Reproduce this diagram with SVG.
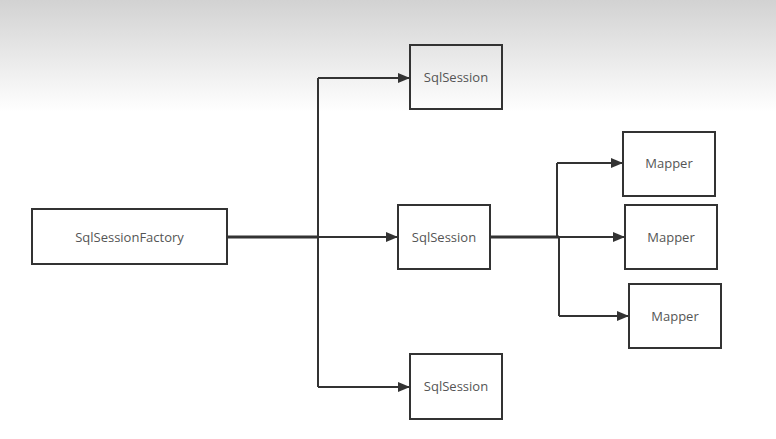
<svg xmlns="http://www.w3.org/2000/svg" width="776" height="439" viewBox="0 0 776 439">
<defs>
<linearGradient id="bg" x1="0" y1="0" x2="0" y2="1">
<stop offset="0" stop-color="#d2d2d2"/>
<stop offset="1" stop-color="#ffffff"/>
</linearGradient>
<marker id="arr" markerWidth="12" markerHeight="10" refX="12" refY="5" orient="auto" markerUnits="userSpaceOnUse">
<path d="M0,0 L12,5 L0,10 Z" fill="#333"/>
</marker>
<style>
.box{fill:none;stroke:#333;stroke-width:2}
.lbl{font-family:"Open Sans","Noto Sans","Liberation Sans",sans-serif;font-size:13px;fill:#555;text-anchor:middle;dominant-baseline:central}
.ln{fill:none;stroke:#333;stroke-width:2}
.thick{stroke-width:3}
</style>
</defs>
<rect x="0" y="0" width="776" height="439" fill="#fff"/>
<rect x="0" y="0" width="776" height="112" fill="url(#bg)"/>
<g id="connectors">
<path class="ln thick" d="M227,237 L318,237"/>
<path class="ln" d="M318,78 L318,387"/>
<path class="ln" d="M318,78 L410,78" marker-end="url(#arr)"/>
<path class="ln" d="M318,237 L398,237" marker-end="url(#arr)"/>
<path class="ln" d="M318,387 L410,387" marker-end="url(#arr)"/>
<path class="ln thick" d="M490,237 L559,237"/>
<path class="ln" d="M557,163 L557,237"/>
<path class="ln" d="M559,237 L559,316"/>
<path class="ln" d="M557,163 L623,163" marker-end="url(#arr)"/>
<path class="ln" d="M559,237 L625,237" marker-end="url(#arr)"/>
<path class="ln" d="M559,316 L629,316" marker-end="url(#arr)"/>
</g>
<g id="factory"><rect class="box" x="32" y="209" width="195" height="55"/><text class="lbl" x="129.5" y="237">SqlSessionFactory</text></g>
<g id="session1"><rect class="box" x="410" y="45" width="92" height="64"/><text class="lbl" x="456" y="77">SqlSession</text></g>
<g id="session2"><rect class="box" x="398" y="205" width="92" height="64"/><text class="lbl" x="444" y="237">SqlSession</text></g>
<g id="session3"><rect class="box" x="410" y="354" width="92" height="65"/><text class="lbl" x="456" y="386">SqlSession</text></g>
<g id="mapper1"><rect class="box" x="623" y="132" width="92" height="64"/><text class="lbl" x="669" y="163">Mapper</text></g>
<g id="mapper2"><rect class="box" x="625" y="205" width="92" height="64"/><text class="lbl" x="671" y="237">Mapper</text></g>
<g id="mapper3"><rect class="box" x="629" y="284" width="92" height="64"/><text class="lbl" x="675" y="316">Mapper</text></g>
</svg>
